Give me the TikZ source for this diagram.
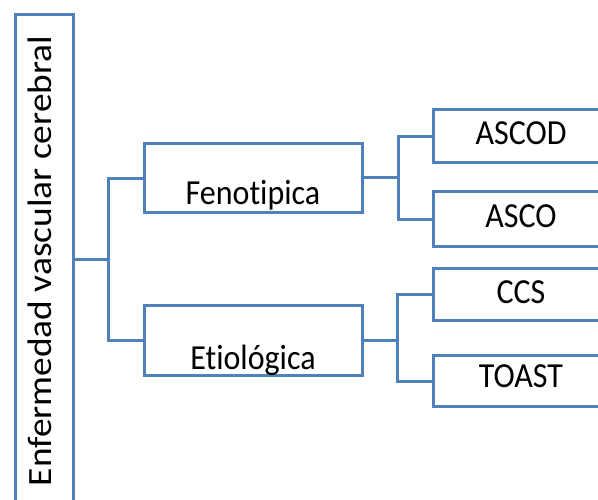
\documentclass[tikz,border=0pt]{standalone}
\usepackage{fontspec}
\setmainfont{Carlito}[Ligatures={NoCommon}]
\definecolor{boxblue}{HTML}{4F81BD}
\begin{document}
\begin{tikzpicture}[x=1pt,y=1pt,
  box/.style={draw=boxblue, line width=3pt, fill=white, rectangle, inner sep=0pt},
  link/.style={draw=boxblue, line width=3pt},
  lbl/.style={font=\fontsize{32}{38}\selectfont, inner sep=0pt, anchor=base},
  rootlbl/.style={font=\fontsize{34}{40}\selectfont, inner sep=0pt, anchor=base, rotate=90}]
\clip (0,0) rectangle (598,500);
\fill[white] (0,0) rectangle (598,500);

% boxes
\node[box, minimum width=58pt, minimum height=505pt] (root) at (44,232.5) {};
\node[box, minimum width=218pt, minimum height=69pt] (fen) at (253,321.5) {};
\node[box, minimum width=218pt, minimum height=70pt] (eti) at (253,159) {};
\node[box, minimum width=176pt, minimum height=53pt] (ascod) at (521,363.5) {};
\node[box, minimum width=176pt, minimum height=55pt] (asco) at (521,280.5) {};
\node[box, minimum width=176pt, minimum height=52pt] (ccs) at (521,205) {};
\node[box, minimum width=176pt, minimum height=51pt] (toast) at (521,118.5) {};

% labels (type slightly tall, as in the original layout)
\node[rootlbl] (roott) at (52,239) {\scalebox{1.1}[1]{Enfermedad vascular cerebral}};
\node[lbl] (fent) at (253,295) {\scalebox{1}[1.1]{Fenotipica}};
\node[lbl] (etit) at (253,130) {\scalebox{1}[1.1]{Etiológica}};
\node[lbl] (ascodt) at (521,355) {\scalebox{1}[1.1]{ASCOD}};
\node[lbl] (ascot) at (521,272) {\scalebox{1}[1.1]{ASCO}};
\node[lbl] (ccst) at (521,196) {\scalebox{1}[1.1]{CCS}};
\node[lbl] (toastt) at (521,112) {\scalebox{1}[1.1]{TOAST}};

% junctions
\coordinate (rootout) at (root.east |- 0,240);
\coordinate (j1) at (108,240);
\coordinate (j2) at (398,322);
\coordinate (j3) at (397,159);

% connectors
\draw[link] (rootout) -- (j1);
\draw[link] (fen.west) -| (j1);
\draw[link] (eti.west) -| (j1);
\draw[link] (fen.east |- j2) -- (j2);
\draw[link] (ascod.west) -| (j2);
\draw[link] (asco.west) -| (j2);
\draw[link] (eti.east) -- (j3);
\draw[link] (ccs.west) -| (j3);
\draw[link] (toast.west) -| (j3);
\end{tikzpicture}
\end{document}
